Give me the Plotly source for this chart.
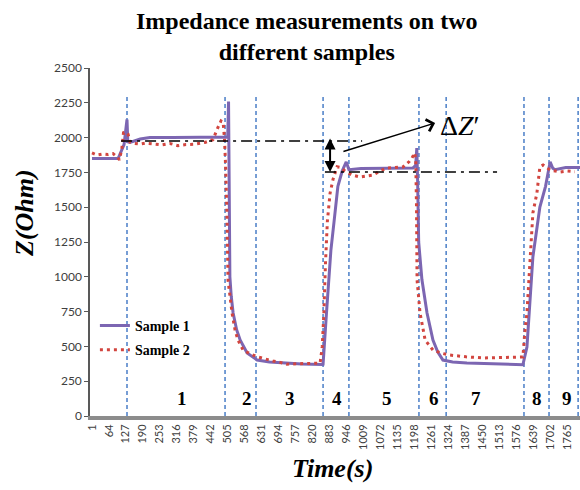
import plotly.graph_objects as go

# ---------------- data ----------------
s1_t = [1, 60, 98, 120, 131, 134, 142, 180, 216, 300, 400, 487, 505, 508, 511, 513, 518, 525, 538, 551,
        577, 614, 660, 710, 780, 855, 859, 872, 888, 900, 914, 930, 945, 955, 1000, 1100, 1193, 1203,
        1207, 1210, 1214, 1226, 1245, 1267, 1285, 1304, 1340, 1393, 1500, 1601, 1616, 1638, 1664, 1685,
        1702, 1712, 1720, 1760, 1813]
s1_z = [1850, 1848, 1850, 1950, 2130, 1970, 1965, 1990, 2000, 2000, 2000, 2000, 2005, 2260, 1700, 1000,
        860, 740, 620, 546, 453, 402, 388, 380, 373, 370, 372, 750, 1190, 1400, 1650, 1760, 1825, 1770,
        1778, 1780, 1782, 1800, 1925, 1700, 1250, 980, 740, 546, 460, 402, 388, 381, 372, 368, 496, 1142,
        1501, 1650, 1825, 1780, 1770, 1785, 1785]

s2_t = [1, 20, 40, 60, 79, 95, 103, 112, 118, 128, 135, 142, 160, 179, 200, 230, 260, 290, 320, 350,
        380, 420, 450, 468, 480, 488, 493, 497, 502, 506, 513, 521, 532, 543, 562, 590, 617, 645, 673,
        700, 725, 760, 800, 848, 856, 862, 868, 875, 885, 896, 911, 925, 940, 966, 996, 1020, 1044, 1070,
        1096, 1125, 1156, 1180, 1189, 1199, 1203, 1206, 1208, 1219, 1238, 1267, 1300, 1330, 1390, 1453,
        1530, 1601, 1608, 1616, 1627, 1638, 1653, 1664, 1676, 1690, 1702, 1739, 1765, 1794]
s2_z = [1890, 1875, 1882, 1878, 1885, 1860, 1840, 1925, 2035, 2040, 2025, 1968, 1958, 1953, 1960, 1955,
        1948, 1958, 1942, 1950, 1952, 1965, 1985, 2070, 2120, 2110, 1990, 1800, 1460, 977, 850, 740, 620,
        546, 474, 445, 424, 408, 395, 385, 372, 375, 376, 380, 500, 740, 1100, 1400, 1600, 1700, 1790,
        1785, 1760, 1731, 1717, 1722, 1730, 1760, 1782, 1785, 1789, 1830, 1853, 1890, 1840, 1500, 977,
        740, 546, 474, 450, 438, 425, 417, 420, 424, 600, 740, 1099, 1458, 1602, 1789, 1803, 1780, 1767,
        1753, 1760, 1755]

event_times = [131, 495, 610, 859, 955, 1215, 1316, 1605, 1698, 1806]
region_labels = ["1", "2", "3", "4", "5", "6", "7", "8", "9"]
region_x = [335, 577, 736, 911, 1096, 1271, 1427, 1653, 1765]

x_ticks = [1, 64, 127, 190, 253, 316, 379, 442, 505, 568, 631, 694, 757, 820, 883, 946, 1009, 1072,
           1135, 1198, 1261, 1324, 1387, 1450, 1513, 1576, 1639, 1702, 1765]
y_ticks = [0, 250, 500, 750, 1000, 1250, 1500, 1750, 2000, 2250, 2500]

ref_high = 1975
ref_low = 1753

SERIF = "Liberation Serif"
TICKFONT = "Lato"

fig = go.Figure()
fig.add_trace(go.Scatter(x=s1_t, y=s1_z, mode="lines", name="Sample 1", legendgroup="a",
                         line=dict(color="#7C66B2", width=3)))
fig.add_trace(go.Scatter(x=s2_t, y=s2_z, mode="lines", name="Sample 2", legendgroup="b",
                         line=dict(color="#D2453F", width=3, dash="3px,4px")))

shapes = []
for t in event_times:
    shapes.append(dict(type="line", xref="x", yref="y", x0=t, x1=t, y0=0, y1=2310,
                       line=dict(color="#4A7EC7", width=1.5, dash="4px,3px"), layer="below"))
shapes.append(dict(type="line", xref="x", yref="y", x0=109, x1=1004, y0=ref_high, y1=ref_high,
                   line=dict(color="black", width=1.5, dash="11px,5px,3px,5px")))
shapes.append(dict(type="line", xref="x", yref="y", x0=866, x1=1505, y0=ref_low, y1=ref_low,
                   line=dict(color="black", width=1.5, dash="11px,5px,3px,5px")))

annotations = []
for lab, xx in zip(region_labels, region_x):
    annotations.append(dict(x=xx, y=125, xref="x", yref="y", text=lab, showarrow=False,
                            font=dict(family=SERIF, size=19, color="black", weight="bold")))
# double arrow
annotations.append(dict(x=885, y=ref_low, ax=885, ay=2004, xref="x", yref="y", axref="x", ayref="y",
                        text="", showarrow=True, arrowhead=2, startarrowhead=2, arrowside="end+start",
                        arrowsize=1.1, arrowwidth=2, arrowcolor="black", standoff=0, startstandoff=0))
# arrow to label
annotations.append(dict(x=1275, y=2105, ax=929, ay=1897, xref="x", yref="y", axref="x", ayref="y",
                        text="", showarrow=True, arrowhead=4, arrowsize=1.6, arrowwidth=1.5,
                        arrowcolor="black", standoff=0))
annotations.append(dict(x=1367, y=2090, xref="x", yref="y", text="Δ<i>Z</i>′", showarrow=False,
                        font=dict(family=SERIF, size=28, color="black")))
# axis titles
annotations.append(dict(x=(24 - 90) / 490, y=(416 - 213) / 348, xref="paper", yref="paper",
                        text="<b><i>Z(Ohm)</i></b>", showarrow=False, textangle=-90,
                        xanchor="center", yanchor="middle",
                        font=dict(family=SERIF, size=26, color="black")))
annotations.append(dict(x=(332 - 90) / 490, y=-(468 - 416) / 348, xref="paper", yref="paper",
                        text="<b><i>Time(s)</i></b>", showarrow=False, xanchor="center", yanchor="middle",
                        font=dict(family=SERIF, size=26, color="black")))
# title (two lines)
annotations.append(dict(x=(307 - 90) / 490, y=(416 - 6) / 348, xref="paper", yref="paper",
                        text="<b>Impedance measurements on two<br>different samples</b>",
                        showarrow=False, xanchor="center", yanchor="top",
                        font=dict(family=SERIF, size=24, color="black")))

fig.update_layout(
    width=580, height=490,
    margin=dict(l=90, r=0, t=68, b=74),
    plot_bgcolor="white", paper_bgcolor="white",
    shapes=shapes, annotations=annotations,
    showlegend=True,
    legend=dict(x=0.01, y=0.305, xanchor="left", yanchor="top", bgcolor="rgba(0,0,0,0)",
                traceorder="grouped", tracegroupgap=3,
                font=dict(family=SERIF, size=14, color="black", weight="bold")),
    xaxis=dict(range=[-6.4, 1813], tickvals=x_ticks, ticktext=[str(v) for v in x_ticks],
               tickangle=-90, showgrid=False, zeroline=False, showline=True,
               linecolor="#8c8c8c", linewidth=4, ticks="",
               tickfont=dict(family=TICKFONT, size=11, color="#404040")),
    yaxis=dict(range=[0, 2500], tickvals=y_ticks, ticktext=[str(v) for v in y_ticks],
               showgrid=False, zeroline=False, showline=True,
               linecolor="#595959", linewidth=1.5, ticks="outside", ticklen=4, tickcolor="#595959",
               tickfont=dict(family=TICKFONT, size=12, color="#404040")),
)

fig.write_html("out.html")
